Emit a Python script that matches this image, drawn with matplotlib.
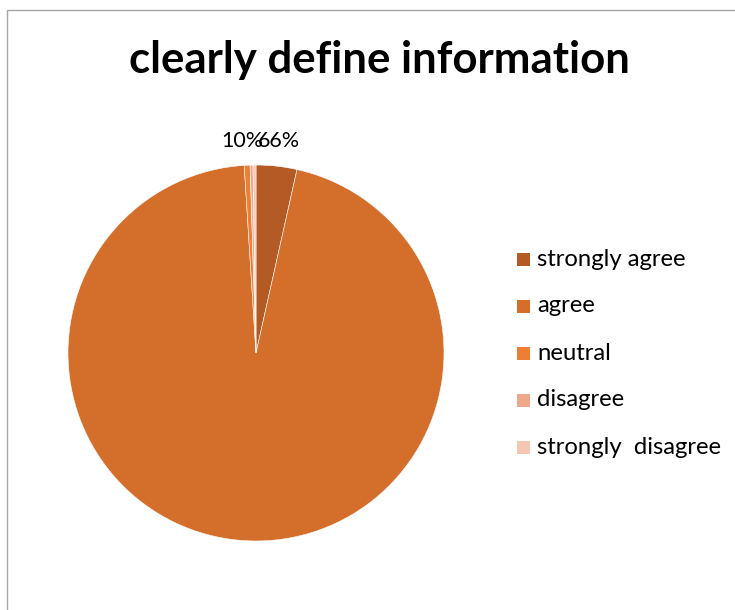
import matplotlib.pyplot as plt
from matplotlib.patches import Rectangle

# Survey answers for "clearly define information"
categories = ['strongly agree', 'agree', 'neutral', 'disagree', 'strongly  disagree']
counts = [14, 382, 2, 1, 1]
colors = ['#B35A25', '#D36F2B', '#EC7E35', '#F0A88A', '#F5C6B4']
data_labels = ['10%', '66%']

plt.rcParams['font.family'] = ['Lato', 'DejaVu Sans']

W, H = 735, 610
fig = plt.figure(figsize=(W / 100, H / 100), dpi=100)

# chart area frame
fig.patches.append(Rectangle((7 / W, -0.1), 1.2, (H - 10) / H + 0.1,
                             transform=fig.transFigure, fill=False,
                             edgecolor='#A6A6A6', linewidth=1.0))

fig.text(379 / W, 1 - 60 / H, 'clearly define information', ha='center', va='center',
         fontsize=31.5, fontweight='bold', color='black')

# pie
ax = fig.add_axes([68 / W, 69 / H, 376 / W, 376 / H])
ax.pie(counts, colors=colors, startangle=90, counterclock=False,
       wedgeprops=dict(edgecolor='white', linewidth=0.4))
ax.set_xlim(-1, 1)
ax.set_ylim(-1, 1)
ax.set_aspect('equal')
ax.axis('off')

# data labels above the small slices
fig.text(242 / W, 1 - 141 / H, data_labels[0], ha='center', va='center', fontsize=15.5)
fig.text(279 / W, 1 - 141 / H, data_labels[1], ha='center', va='center', fontsize=15.5)

# legend
for i, (lab, col) in enumerate(zip(categories, colors)):
    y = 259 + 47 * i
    fig.patches.append(Rectangle((517 / W, 1 - (y + 7) / H), 13 / W, 13 / H,
                                 transform=fig.transFigure, facecolor=col, edgecolor='none'))
    fig.text(537 / W, 1 - y / H, lab, ha='left', va='center', fontsize=17.2)

fig.savefig('out.png', dpi=100)
